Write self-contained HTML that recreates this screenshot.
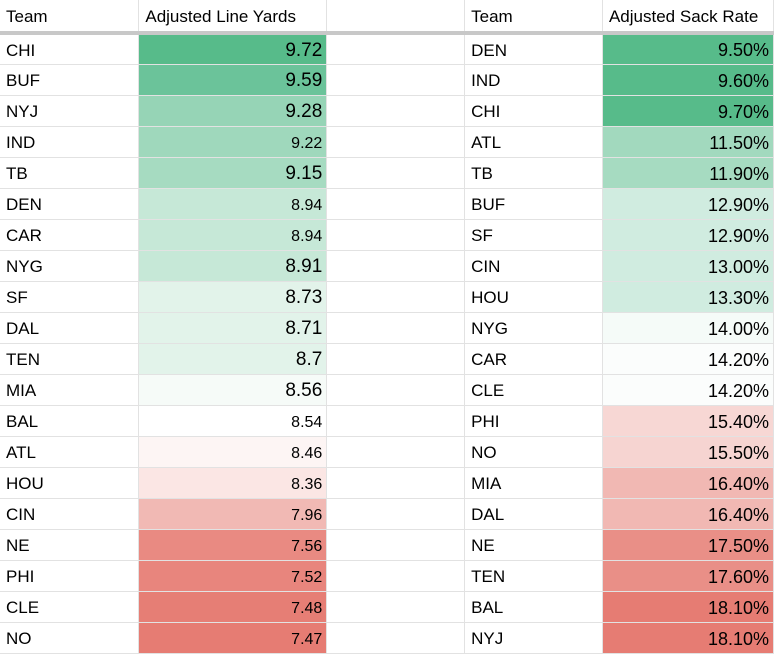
<!DOCTYPE html>
<html><head><meta charset="utf-8"><style>
html,body{margin:0;padding:0;background:#fff;width:774px;height:653px;overflow:hidden}
table{border-collapse:collapse;table-layout:fixed;font-family:"Liberation Sans",Arial,sans-serif;color:#000;position:absolute;left:0;top:0}
td{height:31px;padding:3px 4px 0 6px;border-right:1px solid #e2e2e2;border-bottom:1px solid #e2e2e2;font-size:17px;white-space:nowrap;overflow:hidden;box-sizing:border-box}
tr.h td{height:33px;padding-top:2px;border-bottom:4px solid #c8c8c8;font-size:17px}
td.n{text-align:right;font-size:19px}
td.s{font-size:16px;padding-top:5px}
td.p{text-align:right;font-size:18px}
</style></head><body>
<table>
<colgroup><col style="width:139px"><col style="width:188px"><col style="width:138px"><col style="width:138px"><col style="width:171px"></colgroup>
<tr class="h"><td>Team</td><td>Adjusted Line Yards</td><td></td><td>Team</td><td>Adjusted Sack Rate</td></tr>
<tr><td>CHI</td><td class="n" style="background:#57bb8a">9.72</td><td></td><td>DEN</td><td class="p" style="background:#57bb8a">9.50%</td></tr>
<tr><td>BUF</td><td class="n" style="background:#6bc39a">9.59</td><td></td><td>IND</td><td class="p" style="background:#57bb8a">9.60%</td></tr>
<tr><td>NYJ</td><td class="n" style="background:#96d4b6">9.28</td><td></td><td>CHI</td><td class="p" style="background:#57bb8a">9.70%</td></tr>
<tr><td>IND</td><td class="n s" style="background:#9fd8bc">9.22</td><td></td><td>ATL</td><td class="p" style="background:#a2d9be">11.50%</td></tr>
<tr><td>TB</td><td class="n" style="background:#a6dbc1">9.15</td><td></td><td>TB</td><td class="p" style="background:#a6dbc1">11.90%</td></tr>
<tr><td>DEN</td><td class="n s" style="background:#c6e8d7">8.94</td><td></td><td>BUF</td><td class="p" style="background:#d0ece0">12.90%</td></tr>
<tr><td>CAR</td><td class="n s" style="background:#c6e8d7">8.94</td><td></td><td>SF</td><td class="p" style="background:#d0ece0">12.90%</td></tr>
<tr><td>NYG</td><td class="n" style="background:#c6e8d7">8.91</td><td></td><td>CIN</td><td class="p" style="background:#d0ece0">13.00%</td></tr>
<tr><td>SF</td><td class="n" style="background:#e2f3ea">8.73</td><td></td><td>HOU</td><td class="p" style="background:#d0ece0">13.30%</td></tr>
<tr><td>DAL</td><td class="n" style="background:#e2f3ea">8.71</td><td></td><td>NYG</td><td class="p" style="background:#f5fbf8">14.00%</td></tr>
<tr><td>TEN</td><td class="n" style="background:#e2f3ea">8.7</td><td></td><td>CAR</td><td class="p" style="background:#fbfdfc">14.20%</td></tr>
<tr><td>MIA</td><td class="n" style="background:#f6fbf8">8.56</td><td></td><td>CLE</td><td class="p" style="background:#fbfdfc">14.20%</td></tr>
<tr><td>BAL</td><td class="n s" style="background:#ffffff">8.54</td><td></td><td>PHI</td><td class="p" style="background:#f7d7d4">15.40%</td></tr>
<tr><td>ATL</td><td class="n s" style="background:#fdf5f4">8.46</td><td></td><td>NO</td><td class="p" style="background:#f6d4d1">15.50%</td></tr>
<tr><td>HOU</td><td class="n s" style="background:#fbe6e4">8.36</td><td></td><td>MIA</td><td class="p" style="background:#f1b8b3">16.40%</td></tr>
<tr><td>CIN</td><td class="n s" style="background:#f1b9b4">7.96</td><td></td><td>DAL</td><td class="p" style="background:#f1b8b3">16.40%</td></tr>
<tr><td>NE</td><td class="n s" style="background:#e98a82">7.56</td><td></td><td>NE</td><td class="p" style="background:#e98f87">17.50%</td></tr>
<tr><td>PHI</td><td class="n s" style="background:#e8857d">7.52</td><td></td><td>TEN</td><td class="p" style="background:#e98f87">17.60%</td></tr>
<tr><td>CLE</td><td class="n s" style="background:#e67e75">7.48</td><td></td><td>BAL</td><td class="p" style="background:#e67c73">18.10%</td></tr>
<tr><td>NO</td><td class="n s" style="background:#e67c73">7.47</td><td></td><td>NYJ</td><td class="p" style="background:#e67c73">18.10%</td></tr>
</table>
</body></html>
